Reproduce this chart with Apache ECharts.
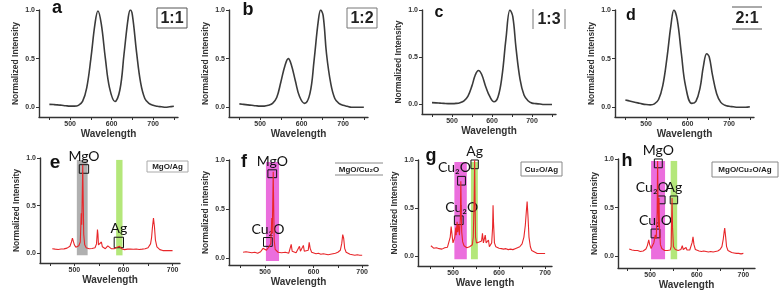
<!DOCTYPE html>
<html>
<head>
<meta charset="utf-8">
<script src="https://cdn.jsdelivr.net/npm/echarts@6/dist/echarts.min.js"></script>
<style>
  html, body { margin: 0; padding: 0; background: #fff; }
  #chart { width: 782px; height: 296px; }
</style>
</head>
<body>
<div id="chart"></div>
<script>
// ---- top row: normalized emission of the mixed samples ----
const A_WL = [450,460,470,480,490,500,510,520,530,540,550,560,567,575,585,595,608,620,630,640,645,650,660,670,680,690,700,710,720,730,740,750];
const A_INT = [0.03,0.028,0.025,0.02,0.015,0.012,0.012,0.02,0.06,0.2,0.5,0.86,0.99,0.86,0.5,0.2,0.06,0.18,0.55,0.92,1.0,0.95,0.57,0.25,0.09,0.04,0.02,0.01,0.005,0.0,0.005,0.01];

const B_WL = [450,460,470,480,490,500,510,520,530,540,550,560,568,575,585,595,607,620,630,640,646,652,660,670,680,690,700,710,720,730,740,750];
const B_INT = [0.035,0.03,0.025,0.02,0.015,0.012,0.012,0.02,0.04,0.1,0.26,0.43,0.5,0.44,0.27,0.11,0.04,0.14,0.48,0.88,1.0,0.94,0.55,0.25,0.09,0.04,0.02,0.01,0.0,0.0,0.0,0.0];

const C_WL = [450,460,470,480,490,500,510,520,530,540,550,558,566,574,585,595,605,615,625,635,645,652,660,670,680,690,700,710,720,730,740,750];
const C_INT = [0.02,0.018,0.015,0.012,0.01,0.01,0.012,0.02,0.04,0.09,0.2,0.31,0.36,0.32,0.18,0.08,0.03,0.08,0.3,0.7,1.0,0.93,0.6,0.27,0.1,0.04,0.015,0.01,0.005,0.0,0.0,0.0];

const D_WL = [450,460,470,480,490,500,510,520,530,540,550,560,567,575,585,595,610,620,630,638,646,652,660,670,680,690,700,710,720,730,740,750];
const D_INT = [0.075,0.065,0.055,0.045,0.035,0.028,0.025,0.035,0.08,0.22,0.5,0.85,1.0,0.9,0.55,0.22,0.04,0.06,0.2,0.42,0.55,0.52,0.33,0.14,0.05,0.02,0.01,0.005,0.0,0.0,0.0,0.005];

// ---- bottom row: single-particle spectra ----
const E_WL = [455,458,461,464,467,470,473,476,479,482,485,488,491,494,496,498,500,503,506,509,512,514,515,516,517,518,519,521,524,527,530,533,536,539,542,545,547,548,549,551,553,555,557,560,563,566,568,570,572,575,578,581,584,587,590,592,594,596,599,602,605,608,611,614,617,620,623,626,629,632,635,638,641,644,647,650,653,655,657,659,661,663,665,668,671,674,677,680,683,686,689,692,695,698,700];
const E_INT = [0.05,0.055,0.045,0.05,0.042,0.05,0.046,0.054,0.048,0.05,0.056,0.06,0.075,0.12,0.16,0.15,0.09,0.065,0.07,0.08,0.12,0.42,0.3,0.6,0.93,0.55,0.2,0.09,0.06,0.055,0.05,0.048,0.052,0.05,0.06,0.1,0.25,0.2,0.09,0.07,0.1,0.12,0.07,0.055,0.05,0.06,0.08,0.09,0.065,0.05,0.045,0.05,0.055,0.065,0.08,0.075,0.06,0.05,0.045,0.04,0.05,0.045,0.04,0.046,0.05,0.044,0.04,0.046,0.04,0.042,0.05,0.045,0.048,0.05,0.055,0.06,0.075,0.1,0.16,0.28,0.37,0.28,0.14,0.07,0.05,0.04,0.035,0.03,0.035,0.03,0.028,0.03,0.025,0.03,0.028];

const F_WL = [455,458,461,464,467,470,473,476,479,482,485,488,491,494,496,498,500,503,506,509,512,514,515,516,517,518,519,521,524,527,530,534,538,542,546,549,552,554,556,560,564,568,571,573,576,579,581,585,589,591,593,596,600,605,610,615,620,625,630,635,640,645,650,655,658,660,662,664,667,671,675,680,685,690,695,700];
const F_INT = [0.06,0.055,0.065,0.05,0.06,0.045,0.055,0.05,0.06,0.055,0.05,0.06,0.065,0.08,0.1,0.12,0.09,0.08,0.1,0.12,0.15,0.41,0.25,0.55,0.88,0.5,0.18,0.09,0.07,0.06,0.05,0.055,0.05,0.06,0.055,0.05,0.07,0.14,0.07,0.06,0.055,0.07,0.12,0.07,0.065,0.13,0.07,0.065,0.08,0.16,0.1,0.06,0.05,0.045,0.05,0.04,0.045,0.04,0.035,0.04,0.045,0.05,0.06,0.08,0.15,0.24,0.2,0.1,0.06,0.045,0.04,0.035,0.03,0.035,0.03,0.03];

const G_WL = [452,455,458,461,464,467,470,473,476,479,482,485,488,491,494,496,498,500,502,504,506,507,508,509,510,512,514,516,517,518,519,521,524,527,530,533,536,539,542,544,546,547,548,549,551,554,557,560,562,564,566,568,570,572,575,577,579,582,584,586,587,588,590,593,596,600,605,610,615,620,625,630,635,640,645,650,654,657,659,661,663,665,668,671,674,677,680,683,686,689,692,695,698,700];
const G_INT = [0.11,0.1,0.085,0.08,0.09,0.075,0.08,0.085,0.075,0.08,0.09,0.085,0.095,0.11,0.2,0.31,0.22,0.14,0.12,0.2,0.3,0.22,0.3,0.36,0.25,0.33,0.22,0.4,0.78,0.45,0.25,0.15,0.11,0.1,0.09,0.09,0.1,0.1,0.12,0.2,0.6,1.0,0.55,0.2,0.14,0.13,0.15,0.14,0.16,0.24,0.14,0.15,0.22,0.14,0.12,0.17,0.1,0.11,0.14,0.3,0.53,0.35,0.14,0.1,0.09,0.085,0.08,0.075,0.08,0.07,0.075,0.07,0.08,0.09,0.1,0.13,0.2,0.32,0.45,0.57,0.4,0.2,0.1,0.06,0.05,0.045,0.04,0.03,0.035,0.03,0.035,0.03,0.035,0.03];

const H_WL = [455,458,461,464,467,470,473,476,479,482,485,488,491,494,497,499,502,505,508,511,513,515,516,517,518,519,520,522,525,528,531,534,537,540,543,545,546,547,548,550,552,554,557,560,563,566,569,571,574,577,579,582,585,588,590,592,594,597,600,605,610,615,620,625,630,635,640,645,650,654,657,659,660,662,664,667,670,675,680,685,690,695,700];
const H_INT = [0.075,0.06,0.065,0.055,0.06,0.05,0.06,0.055,0.05,0.06,0.055,0.065,0.075,0.11,0.17,0.12,0.08,0.1,0.14,0.22,0.18,0.45,0.98,0.55,0.3,0.6,0.3,0.12,0.08,0.07,0.06,0.055,0.06,0.06,0.065,0.1,0.35,0.6,0.3,0.1,0.12,0.07,0.065,0.06,0.065,0.07,0.11,0.07,0.065,0.09,0.065,0.06,0.065,0.08,0.14,0.2,0.12,0.07,0.06,0.055,0.05,0.055,0.05,0.045,0.05,0.045,0.05,0.055,0.07,0.1,0.18,0.26,0.29,0.2,0.1,0.06,0.045,0.04,0.035,0.03,0.03,0.025,0.03];

const Y_TICKS = [0, 0.5, 1];
const X_LABELS = [500, 600, 700];
const X_TICKS = [450, 500, 550, 600, 650, 700, 750];

const zip = (xs, ys) => xs.map((x, i) => [x, ys[i]]);

const FONT = "Liberation Sans";
const AXIS_COLOR = "#333";
const PINK = "rgba(232, 85, 215, 0.85)";
const GREEN = "rgba(176, 230, 115, 0.95)";
const GRAY = "rgba(150, 150, 150, 0.75)";

// grid boxes and axis ranges per panel
const panels = [
  { id: "a", grid: [39, 10, 139, 107], x: [425, 760], y: [-0.1, 1.0], xs: A_WL, ys: A_INT, yName: "Normalized Intensity", xName: "Wavelength" },
  { id: "b", grid: [229, 10, 139, 107], x: [425, 760], y: [-0.1, 1.0], xs: B_WL, ys: B_INT, yName: "Normalized Intensity", xName: "Wavelength" },
  { id: "c", grid: [422, 10, 134, 104], x: [425, 760], y: [-0.1, 1.0], xs: C_WL, ys: C_INT, yName: "Normalized Intensity", xName: "Wavelength" },
  { id: "d", grid: [615, 10, 139, 107], x: [425, 760], y: [-0.1, 1.0], xs: D_WL, ys: D_INT, yName: "Normalized Intensity", xName: "Wavelength" },
  { id: "e", grid: [40, 158, 140, 105], x: [430, 715], y: [-0.1, 1.0], xs: E_WL, ys: E_INT, yName: "Normalized Intensity", xName: "Wavelength" },
  { id: "f", grid: [229, 160, 139, 105], x: [426, 712], y: [-0.07, 1.0], xs: F_WL, ys: F_INT, yName: "Normalized intensity", xName: "Wavelength" },
  { id: "g", grid: [418, 160, 134, 106], x: [424, 715], y: [-0.1, 1.0], xs: G_WL, ys: G_INT, yName: "Normalized Intensity", xName: "Wave length" },
  { id: "h", grid: [618, 159, 137, 109], x: [431, 725], y: [-0.12, 1.0], xs: H_WL, ys: H_INT, yName: "Normalized intensity", xName: "Wavelength" },
];

// highlighted bands [x1, x2, colour, yBottom]
const bands = {
  e: [[505, 527, GRAY, -0.02], [585, 598, GREEN, -0.02]],
  f: [[502, 529, PINK, -0.03]],
  g: [[503, 530, PINK, -0.03], [539, 554, GREEN, -0.03]],
  h: [[502, 532, PINK, -0.03], [544, 558, GREEN, -0.03]],
};

// boxes [x1, x2, y1, y2, label, labelOffsetX]
const boxes = {
  e: [[510, 529, 0.84, 0.93, "MgO", 0], [581, 600, 0.06, 0.17, "Ag", 0]],
  f: [[506, 524, 0.82, 0.9, "MgO", 0], [497, 515, 0.12, 0.21, "Cu₂O", 0]],
  g: [[539, 555, 0.91, 1.0, "Ag", 0], [510, 527, 0.74, 0.83, "Cu₂O", -7], [503, 522, 0.33, 0.42, "Cu₂O", 3]],
  h: [[509, 526, 0.91, 1.0, "MgO", 0], [516, 532, 0.54, 0.62, "Cu₂O", -9], [543, 559, 0.54, 0.62, "Ag", 0], [502, 521, 0.19, 0.28, "Cu₂O", 0]],
};

const grids = [], xAxes = [], yAxes = [], series = [];

panels.forEach((p, i) => {
  const [left, top, width, height] = p.grid;
  grids.push({ left, top, width, height, outerBoundsMode: "none" });
  xAxes.push({
    type: "value", gridIndex: i, min: p.x[0], max: p.x[1],
    name: p.xName, nameLocation: "middle", nameGap: 12,
    nameTextStyle: { fontFamily: FONT, fontWeight: "bold", fontSize: 10, color: "#333" },
    axisLine: { show: true, onZero: false, lineStyle: { color: AXIS_COLOR, width: 1.4 } },
    axisTick: { show: true, length: 3, customValues: X_TICKS.filter(v => v > p.x[0] && v < p.x[1]), lineStyle: { color: AXIS_COLOR } },
    axisLabel: { customValues: X_LABELS, fontFamily: FONT, fontWeight: "bold", fontSize: 7, color: "#333", margin: 4 },
    splitLine: { show: false },
  });
  yAxes.push({
    type: "value", gridIndex: i, min: p.y[0], max: p.y[1],
    name: p.yName, nameLocation: "middle", nameGap: 19,
    nameTextStyle: { fontFamily: FONT, fontWeight: "bold", fontSize: 8.5, color: "#333" },
    axisLine: { show: true, onZero: false, lineStyle: { color: AXIS_COLOR, width: 1.4 } },
    axisTick: { show: true, length: 3, customValues: Y_TICKS, lineStyle: { color: AXIS_COLOR } },
    axisLabel: { customValues: Y_TICKS, fontFamily: FONT, fontWeight: "bold", fontSize: 7, color: "#333", margin: 4,
      formatter: v => v.toFixed(1) },
    splitLine: { show: false },
  });

  const top4 = i < 4;
  if (bands[p.id]) {
    series.push({
      type: "line", xAxisIndex: i, yAxisIndex: i, data: [], z: 1, silent: true,
      markArea: {
        silent: true,
        data: bands[p.id].map(b => [
          { xAxis: b[0], yAxis: b[3], itemStyle: { color: b[2] } },
          { xAxis: b[1], yAxis: 0.98 },
        ]),
      },
    });
  }
  series.push({
    type: "line", xAxisIndex: i, yAxisIndex: i, z: 2,
    data: zip(p.xs, p.ys),
    showSymbol: false, smooth: top4 ? 0.4 : false,
    lineStyle: top4 ? { color: "#3b3b3b", width: 1.6 } : { color: "#e8262a", width: 1.1 },
    animation: false,
  });
  if (boxes[p.id]) {
    series.push({
      type: "line", xAxisIndex: i, yAxisIndex: i, data: [], z: 3, silent: true,
      markArea: {
        silent: true,
        data: boxes[p.id].map(b => [
          { name: b[4], xAxis: b[0], yAxis: b[3],
            itemStyle: { color: "rgba(0,0,0,0)", borderColor: "#111", borderWidth: 1 },
            label: { show: true, position: "top", distance: 1, offset: [b[5], 0],
              color: "#111", fontFamily: "Lato", fontSize: 14 } },
          { xAxis: b[1], yAxis: b[2] },
        ]),
      },
    });
  }
});

// panel letters and sample tags
const letters = [
  ["a", 57, 17, 18], ["b", 248, 19, 18], ["c", 439, 21, 16], ["d", 631, 24, 16],
  ["e", 55, 172, 19], ["f", 244, 171, 18], ["g", 431, 165, 18], ["h", 627, 170, 18],
];
const graphics = letters.map(([t, x, y, s]) => ({
  type: "text", x, y, z: 10,
  style: { text: t, font: `bold ${s}px ${FONT}`, fill: "#111", align: "center", verticalAlign: "bottom" },
}));

function tag(text, x1, y1, x2, y2, size, sides, stroke) {
  graphics.push({
    type: "text", x: (x1 + x2) / 2, y: (y1 + y2) / 2 + 0.5, z: 10,
    style: { text, font: `bold ${size}px ${FONT}`, fill: "#222", align: "center", verticalAlign: "middle" },
  });
  const seg = (a, b, c, d) => graphics.push({
    type: "line", z: 10, shape: { x1: a, y1: b, x2: c, y2: d }, style: { stroke, lineWidth: 1 },
  });
  if (sides.includes("t")) seg(x1, y1, x2, y1);
  if (sides.includes("b")) seg(x1, y2, x2, y2);
  if (sides.includes("l")) seg(x1, y1, x1, y2);
  if (sides.includes("r")) seg(x2, y1, x2, y2);
}
tag("1:1", 157, 8, 187, 28, 16, "tblr", "#555");
tag("1:2", 347, 8, 377, 28, 16, "tblr", "#777");
tag("1:3", 533, 9, 565, 29, 16, "lr", "#777");
tag("2:1", 732, 7, 762, 29, 16, "tb", "#555");
tag("MgO/Ag", 147, 161, 188, 172, 8, "tblr", "#aaa");
tag("MgO/Cu₂O", 335, 163, 383, 175, 8, "tb", "#888");
tag("Cu₂O/Ag", 521, 162, 562, 176, 8, "tblr", "#888");
tag("MgO/Cu₂O/Ag", 712, 162, 778, 177, 8, "tblr", "#888");

const chart = echarts.init(document.getElementById("chart"), null, { renderer: "canvas" });
chart.setOption({
  backgroundColor: "#fff",
  animation: false,
  grid: grids,
  xAxis: xAxes,
  yAxis: yAxes,
  series,
  graphic: graphics,
});
</script>
</body>
</html>
